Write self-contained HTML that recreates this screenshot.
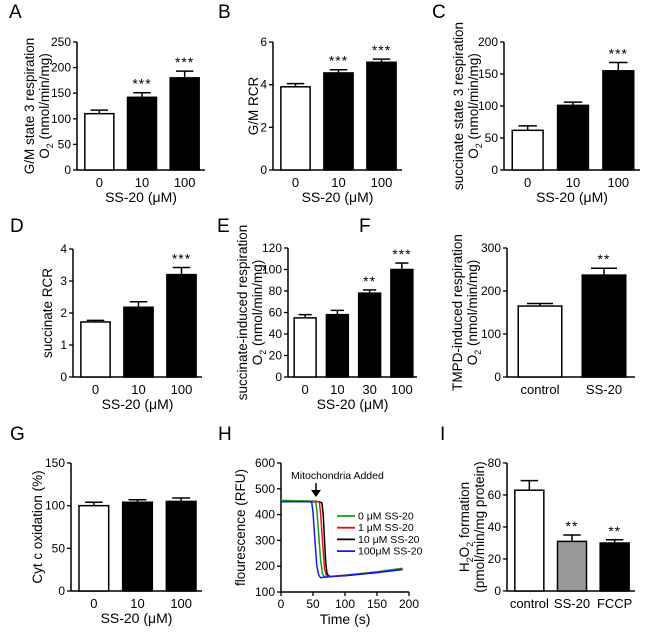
<!DOCTYPE html>
<html><head><meta charset="utf-8">
<style>
body{margin:0;background:#fff;}
svg{display:block;font-family:"Liberation Sans",Arial,sans-serif;}
</style></head>
<body>
<svg id="fig" width="647" height="633" viewBox="0 0 647 633" xmlns="http://www.w3.org/2000/svg"></svg>
<script>
// ---- data ----
const aCats=["0","10","100"], aVals=[110,142,180], aErrs=[7,9,13], aStars=["","***","***"], aTicks=[0,50,100,150,200,250];
const bCats=["0","10","100"], bVals=[3.9,4.55,5.05], bErrs=[0.15,0.15,0.15], bStars=["","***","***"], bTicks=[0,2,4,6];
const cCats=["0","10","100"], cVals=[62,101,155], cErrs=[7,5,13], cStars=["","","***"], cTicks=[0,50,100,150,200];
const dCats=["0","10","100"], dVals=[1.72,2.18,3.2], dErrs=[0.05,0.17,0.22], dStars=["","","***"], dTicks=[0,1,2,3,4];
const eCats=["0","10","30","100"], eVals=[55,58,78,100], eErrs=[3,4,3,6], eStars=["","","**","***"], eTicks=[0,20,40,60,80,100,120];
const fCats=["control","SS-20"], fVals=[165,237], fErrs=[6,16], fStars=["","**"], fTicks=[0,100,200,300];
const gCats=["0","10","100"], gVals=[100,104,105], gErrs=[4,3,4], gStars=["","",""], gTicks=[0,50,100,150];
const iCats=["control","SS-20","FCCP"], iVals=[63,31,30], iErrs=[6,4,2], iStars=["","**","**"], iTicks=[0,20,40,60,80];
const hXTicks=[0,50,100,150,200], hYTicks=[100,200,300,400,500,600];
const hLabels=["0 μM SS-20","1 μM SS-20","10 μM SS-20","100μM SS-20"];
const hGreenT=[0,50,54,56,59,62,65,68,72,100,150,190], hGreenV=[455,452,450,420,320,220,170,157,158,165,178,192];
const hRedT=[0,55,60,62,65,68,71,75,100,150,190], hRedV=[452,452,448,400,290,190,162,160,165,178,190];
const hBlackT=[0,60,64,66,68,70,72,76,100,150,190], hBlackV=[450,450,445,400,300,210,170,160,163,175,187];
const hBlueT=[0,44,48,50,53,56,59,62,66,100,150,190], hBlueV=[450,450,447,410,300,200,165,155,157,164,176,188];

const NS="http://www.w3.org/2000/svg";
const svg=document.getElementById('fig');
function mk(tag,attrs,parent,text){const e=document.createElementNS(NS,tag);for(const k in attrs)e.setAttribute(k,attrs[k]);if(text!==undefined)e.textContent=text;(parent||svg).appendChild(e);return e;}

function yTitle(g,lines,x,cy){
  lines.forEach((ln,i)=>{
    const t=mk('text',{x:0,y:0,transform:`translate(${x-(lines.length-1-i)*15},${cy}) rotate(-90)`,'text-anchor':'middle','font-size':13.5,fill:'#000'},g);
    
    
    if(ln.indexOf('O2')===0){
      mk('tspan',{},t,'O');
      mk('tspan',{'font-size':9,dy:4},t,'2');
      mk('tspan',{dy:-4},t,ln.slice(2));
    } else if(ln.indexOf('H2O2')===0){
      mk('tspan',{},t,'H');mk('tspan',{'font-size':9,dy:4},t,'2');
      mk('tspan',{dy:-4},t,'O');mk('tspan',{'font-size':9,dy:4},t,'2');
      mk('tspan',{dy:-4},t,ln.slice(4));
    } else t.textContent=ln;
  });
}
function panelLabel(ch,x,y){
  const t=mk('text',{x:x,y:y,'font-size':19,fill:'#000'},svg,ch);
  
  
}
function yAxis(g,ax,y0,yTop,ticks,ys){
  const l=mk('line',{x1:ax,x2:ax,y1:y0,y2:yTop,stroke:'#000','stroke-width':1.5},g);
  
  
  ticks.forEach(v=>{
    mk('line',{x1:ax-4,x2:ax,y1:ys(v),y2:ys(v),stroke:'#000','stroke-width':1.3},g);
    const t=mk('text',{x:ax-6,y:ys(v)+4,'text-anchor':'end','font-size':12,fill:'#000'},g,String(v));
    
    
  });
}
function barChart(c){
  const g=mk('g',{});
  
  
  const ticks=c.ticks,min=ticks[0],max=ticks[ticks.length-1];
  const ys=v=>c.y0-(v-min)/(max-min)*(c.y0-c.yTop);
  yAxis(g,c.ax,c.y0,c.yTop,ticks,ys);
  const xl=mk('line',{x1:c.ax,x2:c.axEnd,y1:c.y0,y2:c.y0,stroke:'#000','stroke-width':1.5},g);
  
  
  const n=c.cats.length,band=(c.axEnd-c.ax)/n,bw=band*0.68;
  c.cats.forEach((cat,i)=>{
    const cx=c.ax+band*(i+0.5)+1,v=c.vals[i],e=c.errs[i];
    const fill=c.fills[i];
    const r=mk('rect',{x:cx-bw/2,y:ys(v),width:bw,height:c.y0-ys(v),fill:fill,stroke:'#000','stroke-width':1.5},g);
    
    
    mk('line',{x1:cx,x2:cx,y1:ys(v),y2:ys(v+e),stroke:'#000','stroke-width':1.5},g);
    mk('line',{x1:cx-bw*0.3,x2:cx+bw*0.3,y1:ys(v+e),y2:ys(v+e),stroke:'#000','stroke-width':1.5},g);
    if(c.stars[i]){
      const s=mk('text',{x:cx,y:ys(v+e)-4,'text-anchor':'middle','font-size':14,'letter-spacing':1,fill:'#000'},g,c.stars[i]);
      
      
    }
    const t=mk('text',{x:cx,y:c.y0+17,'text-anchor':'middle','font-size':13,fill:'#000'},g,cat);
    
    
  });
  if(c.xTitle){
    const t=mk('text',{x:(c.ax+c.axEnd)/2,y:c.y0+32,'text-anchor':'middle','font-size':14,fill:'#000'},g,c.xTitle);
    
    
  }
  yTitle(g,c.title,c.titleX,(c.y0+c.yTop)/2);
}
const W='#fff',K='#000';
panelLabel('A',9,18);panelLabel('B',218,18);panelLabel('C',432,18);
panelLabel('D',10,232);panelLabel('E',217,232);panelLabel('F',359,232);
panelLabel('G',10,440);panelLabel('H',218,440);panelLabel('I',440,440);
barChart({name:'chart-a',cats:aCats,vals:aVals,errs:aErrs,stars:aStars,ticks:aTicks,fills:[W,K,K],ax:77,axEnd:205,y0:170,yTop:42,xTitle:'SS-20 (μM)',title:['G/M state 3 respiration','O2 (nmol/min/mg)'],titleX:49});
barChart({name:'chart-b',cats:bCats,vals:bVals,errs:bErrs,stars:bStars,ticks:bTicks,fills:[W,K,K],ax:273,axEnd:402,y0:170,yTop:42,xTitle:'SS-20 (μM)',title:['G/M RCR'],titleX:258});
barChart({name:'chart-c',cats:cCats,vals:cVals,errs:cErrs,stars:cStars,ticks:cTicks,fills:[W,K,K],ax:504,axEnd:640,y0:170,yTop:42,xTitle:'SS-20 (μM)',title:['succinate state 3 respiration','O2 (nmol/min/mg)'],titleX:478});
barChart({name:'chart-d',cats:dCats,vals:dVals,errs:dErrs,stars:dStars,ticks:dTicks,fills:[W,K,K],ax:73,axEnd:202,y0:377,yTop:249,xTitle:'SS-20 (μM)',title:['succinate RCR'],titleX:52});
barChart({name:'chart-e',cats:eCats,vals:eVals,errs:eErrs,stars:eStars,ticks:eTicks,fills:[W,K,K,K],ax:288,axEnd:417,y0:377,yTop:248,xTitle:'SS-20 (μM)',title:['succinate-induced respiration','O2 (nmol/min/mg)'],titleX:262});
barChart({name:'chart-f',cats:fCats,vals:fVals,errs:fErrs,stars:fStars,ticks:fTicks,fills:[W,K],ax:507,axEnd:635,y0:377,yTop:248,xTitle:'',title:['TMPD-induced respiration','O2 (nmol/min/mg)'],titleX:477});
barChart({name:'chart-g',cats:gCats,vals:gVals,errs:gErrs,stars:gStars,ticks:gTicks,fills:[W,K,K],ax:71,axEnd:202,y0:591,yTop:463,xTitle:'SS-20 (μM)',title:['Cyt  c oxidation (%)'],titleX:42});
barChart({name:'chart-i',cats:iCats,vals:iVals,errs:iErrs,stars:iStars,ticks:iTicks,fills:[W,'#9a9a9a',K],ax:507,axEnd:635,y0:591,yTop:463,xTitle:'',title:['H2O2 formation','(pmol/min/mg protein)'],titleX:484});

// ---- H line chart ----
(function(){
  const g=mk('g',{});
  
  
  const ax=281,axEnd=409,y0=592,yTop=463;
  const xs=t=>ax+(t-hXTicks[0])/(hXTicks[hXTicks.length-1]-hXTicks[0])*(axEnd-ax);
  const ys=v=>y0-(v-hYTicks[0])/(hYTicks[hYTicks.length-1]-hYTicks[0])*(y0-yTop);
  yAxis(g,ax,y0,yTop,hYTicks,ys);
  const xl=mk('line',{x1:ax,x2:axEnd,y1:y0,y2:y0,stroke:'#000','stroke-width':1.5},g);
  
  
  hXTicks.forEach(v=>{
    mk('line',{x1:xs(v),x2:xs(v),y1:y0,y2:y0+4,stroke:'#000','stroke-width':1.3},g);
    const t=mk('text',{x:xs(v),y:y0+16,'text-anchor':'middle','font-size':12,fill:'#000'},g,String(v));
    
    
  });
  const xt=mk('text',{x:(ax+axEnd)/2,y:y0+32,'text-anchor':'middle','font-size':14,fill:'#000'},g,'Time (s)');
  
  
  yTitle(g,['flourescence (RFU)'],245,(y0+yTop)/2);
  const series=[[hGreenT,hGreenV,'#1a9a1a'],[hRedT,hRedV,'#e8141a'],[hBlackT,hBlackV,'#000'],[hBlueT,hBlueV,'#1a1aee']];
  const order=[2,1,0,3];
  order.forEach(k=>{
    const [T,V,col]=series[k];
    const p=mk('polyline',{points:T.map((t,i)=>xs(t)+','+ys(V[i])).join(' '),fill:'none',stroke:col,'stroke-width':1.5},g);
    
    
  });
  series.forEach((s,k)=>{
    const y=516+k*11.7;
    const l=mk('line',{x1:337,x2:355,y1:y,y2:y,stroke:s[2],'stroke-width':1.8},g);
    
    
    const t=mk('text',{x:358,y:y+3.5,'font-size':10.5,fill:'#000'},g,hLabels[k]);
    
    
  });
  const at=mk('text',{x:291,y:479,'font-size':10.5,fill:'#000'},g,'Mitochondria Added');
  
  
  const arr=mk('line',{x1:316,x2:316,y1:483,y2:492,stroke:'#000','stroke-width':1.5},g);
  
  
  mk('polygon',{points:'311,490 321,490 316,497',fill:'#000'},g);
})();
</script>
</body></html>
